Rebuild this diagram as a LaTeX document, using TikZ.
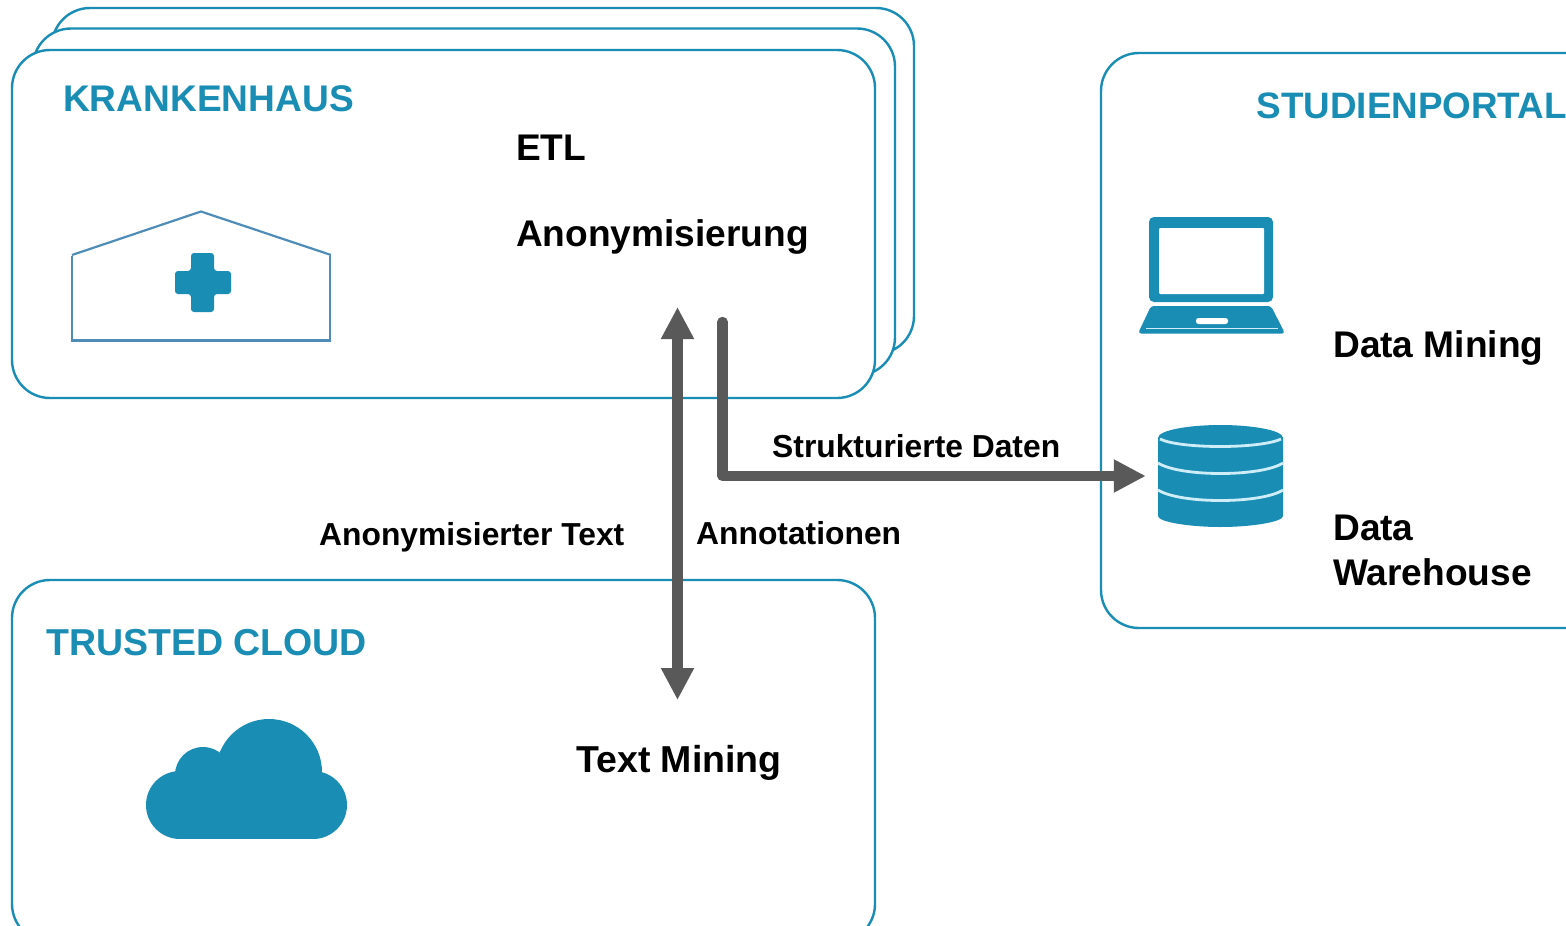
\documentclass[tikz,border=0pt]{standalone}
\usepackage{fontspec}
\setmainfont{Liberation Sans}
\usetikzlibrary{arrows.meta}
\definecolor{teal}{HTML}{1A8DB5}
\definecolor{houseblue}{HTML}{4F8DB8}
\definecolor{flowgrey}{HTML}{595959}
\definecolor{bandlight}{HTML}{CFEDF6}
\tikzset{
  panel/.style={draw=teal,line width=2.4pt,fill=white,rounded corners=38pt,inner sep=0pt,outer sep=0pt},
  head/.style={anchor=base west,inner sep=0pt,text=teal,font=\fontsize{37.1}{38}\selectfont\bfseries},
  big/.style={anchor=base west,inner sep=0pt,text=black,font=\fontsize{37.1}{38}\selectfont\bfseries},
  small/.style={anchor=base west,inner sep=0pt,text=black,font=\fontsize{31.8}{32}\selectfont\bfseries},
  flow/.style={draw=flowgrey,line width=10.4pt,line join=round},
  houseline/.style={draw=houseblue,line width=2.2pt},
}
\begin{document}
\begin{tikzpicture}[x=1pt,y=-1pt]
\path[use as bounding box,clip] (0,0) rectangle (1566,926);
\fill[white] (0,0) rectangle (1566,926);
% panels
\node[panel,minimum width=862pt,minimum height=346pt] (backpanel) at (483,181) {};
\node[panel,minimum width=862pt,minimum height=347pt] (midpanel) at (464,202) {};
\node[panel,minimum width=863pt,minimum height=348pt] (kh) at (443.5,224) {};
\node[panel,minimum width=863pt,minimum height=362pt] (tc) at (443.5,761) {};
\node[panel,minimum width=520pt,minimum height=575pt] (sp) at (1361,340.5) {};
% headings
\node[head] (khlabel) at (63,111) {KRANKENHAUS};
\node[head,font=\fontsize{37.5}{38}\selectfont\bfseries] (tclabel) at (46,655) {TRUSTED CLOUD};
\node[head,font=\fontsize{36.8}{38}\selectfont\bfseries] (splabel) at (1256.5,118) {STUDIENPORTAL};
% labels
\node[big] (etl) at (516,160) {ETL};
\node[big] (anon) at (516,246) {Anonymisierung};
\node[big,font=\fontsize{37.5}{38}\selectfont\bfseries] (tm) at (576,772) {Text Mining};
\node[big] (dm) at (1333,357) {Data Mining};
\node[big] (dw1) at (1333,540) {Data};
\node[big] (dw2) at (1333,585) {Warehouse};
\node[small] (sd) at (772,457) {Strukturierte Daten};
\node[small] (at) at (319,545) {Anonymisierter Text};
\node[small] (an) at (696,544) {Annotationen};
% house
\draw[houseline] (72,255) -- (201,211.5) -- (331,255);
\draw[houseline,line cap=rect] (72,257) -- (72,340.5) -- (330,340.5) -- (330,257);
\fill[teal,rounded corners=3pt] (191,253) -- (214,253) -- (214,271) -- (231,271) -- (231,294) -- (214,294) -- (214,312) -- (191,312) -- (191,294) -- (175,294) -- (175,271) -- (191,271) -- cycle;
% cloud
\fill[teal] (269,772) circle (53);
\fill[teal] (203,775) circle (28);
\fill[teal] (180,805) circle (34);
\fill[teal] (313,805) circle (34);
\fill[teal] (180,780) rectangle (313,839);
% laptop
\fill[teal,rounded corners=5pt] (1149,217) rectangle (1273,302);
\fill[white,rounded corners=1pt] (1159,228) rectangle (1264,294);
\fill[teal,rounded corners=3pt] (1151,306) -- (1271,306) -- (1285,333.5) -- (1138,333.5) -- cycle;
\draw[bandlight,line width=1pt] (1146,328.5) -- (1278,328.5);
\fill[white,rounded corners=2.5pt] (1196,318) rectangle (1228,324);
% database
\node[inner sep=0pt,minimum width=125pt,minimum height=102pt] (db) at (1220.5,476) {};
\fill[teal] (1158,438) -- (1158,516) .. controls (1158,522) and (1190,527) .. (1220.5,527) .. controls (1251,527) and (1283,522) .. (1283,516) -- (1283,438) .. controls (1283,430) and (1251,425) .. (1220.5,425) .. controls (1190,425) and (1158,430) .. (1158,438) -- cycle;
\draw[bandlight,line width=2.8pt] (1160,439) .. controls (1180,449) and (1260,449) .. (1281,439);
\draw[bandlight,line width=2.8pt] (1158,463) .. controls (1180,477) and (1261,477) .. (1283,463);
\draw[bandlight,line width=2.8pt] (1158,490) .. controls (1180,504) and (1261,504) .. (1283,490);
% connectors
\coordinate (bothtop) at (677.5,307);
\coordinate (bothbottom) at (677.5,700);
\coordinate (flowstart) at (722.5,322);
\coordinate (flowend) at (db.west);
\draw[flow,{Triangle[length=32pt,width=31pt]}-{Triangle[length=32pt,width=31pt]}] (bothtop) -- (bothbottom);
\draw[flow,line cap=round,-{Triangle[length=32pt,width=31pt]}] (flowstart) |- ([xshift=-12pt]flowend);
\end{tikzpicture}
\end{document}
